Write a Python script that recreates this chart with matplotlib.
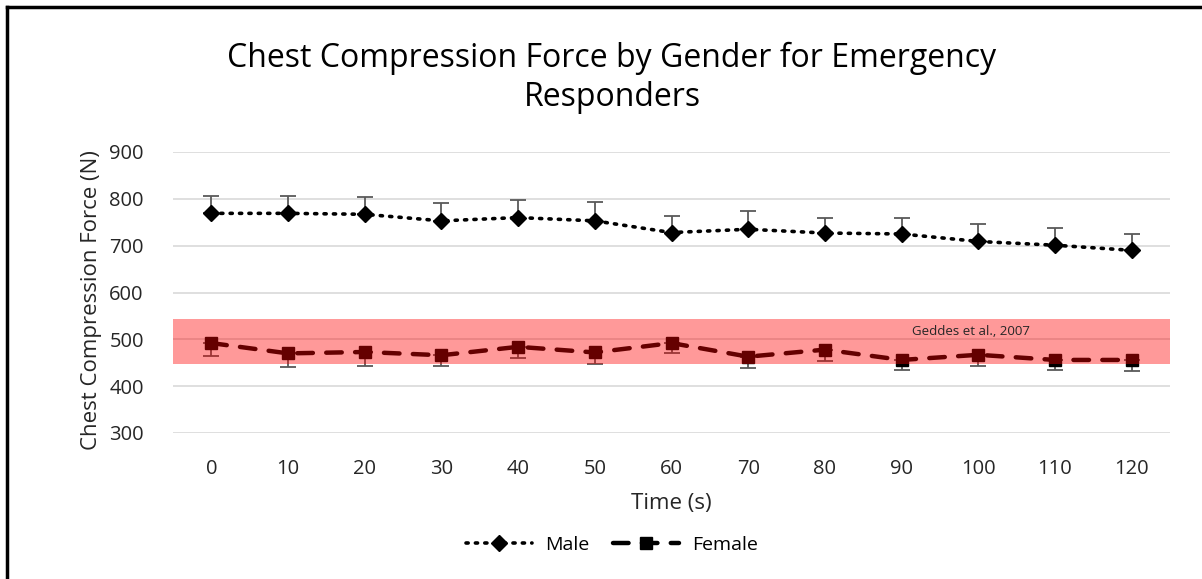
import matplotlib
matplotlib.use("Agg")
import matplotlib.pyplot as plt
from matplotlib.lines import Line2D
import numpy as np

plt.rcParams['font.family'] = ['Open Sans', 'DejaVu Sans']

time_labels = ["0", "10", "20", "30", "40", "50", "60", "70", "80", "90", "100", "110", "120"]
male = [769, 769, 767, 753, 760, 753, 728, 735, 727, 725, 709, 701, 690]
male_err = [36, 37, 36, 38, 37, 40, 35, 40, 33, 35, 37, 37, 35]
female = [492, 470, 473, 466, 484, 472, 492, 463, 478, 456, 467, 456, 456]
female_err = [27, 29, 30, 23, 24, 24, 22, 25, 25, 22, 23, 22, 23]
band_low, band_high = 448, 543
band_label = "Geddes et al., 2007"

fig = plt.figure(figsize=(12.02, 5.79), dpi=100)
ax = fig.add_axes([173/1202, 1-433/579, (1170-173)/1202, (433-152)/579])

x = np.arange(len(time_labels))

ax.errorbar(x, male, yerr=[np.zeros(len(male)), male_err], fmt='none',
            ecolor='#595959', elinewidth=1.3, capsize=6, capthick=1.3, zorder=2)
ax.errorbar(x, female, yerr=[female_err, np.zeros(len(female))], fmt='none',
            ecolor='#595959', elinewidth=1.3, capsize=6, capthick=1.3, zorder=2)

(male_line,) = ax.plot(x, male, color='black', linestyle=(0, (0.6, 2.0)), dash_capstyle='round',
                       linewidth=2.6, marker='D', markersize=8.5, label='Male', zorder=3)
(female_line,) = ax.plot(x, female, color='black', linestyle=(0, (3.5, 3.0)), dash_capstyle='round',
                         linewidth=3.2, marker='s', markersize=8, label='Female', zorder=3)

ax.axhspan(band_low, band_high, color='red', alpha=0.4, linewidth=0, zorder=4)
ax.text(9.9, 516, band_label, fontsize=9.5, color='#262626', ha='center', va='center', zorder=5)

ax.set_ylim(300, 900)
ax.set_xlim(-0.5, len(time_labels) - 0.5)
ax.set_yticks(np.arange(300, 901, 100))
ax.set_xticks(x)
ax.set_xticklabels(time_labels)
ax.grid(axis='y', color='#d9d9d9', linewidth=1.2, zorder=0)
ax.set_axisbelow(True)
for s in ax.spines.values():
    s.set_visible(False)
ax.tick_params(axis='both', length=0, labelsize=14.5, colors='#262626')
ax.tick_params(axis='y', pad=21)
ax.tick_params(axis='x', pad=19)

ax.set_xlabel("Time (s)", fontsize=16, color='#262626', labelpad=10)
fig.text(92/1202, 1-300/579, "Chest Compression Force (N)", rotation=90, fontsize=16,
         color='#262626', ha='center', va='center')

fig.text(612/1202, 1-78/579, "Chest Compression Force by Gender for Emergency\nResponders",
         fontsize=23, color='black', ha='center', va='center', linespacing=1.22)

leg = fig.legend(handles=[male_line, female_line], labels=['Male', 'Female'], loc='center',
                 bbox_to_anchor=(612/1202, 1-545/579), ncol=2, frameon=False, fontsize=14,
                 handlelength=3.4, columnspacing=1.2, handletextpad=0.7)

fig.add_artist(Line2D([6.5/1202, 6.5/1202], [0, 1-6.5/579], color='black', linewidth=2.5,
                      transform=fig.transFigure))
fig.add_artist(Line2D([6.5/1202, 1], [1-6.5/579, 1-6.5/579], color='black', linewidth=2.5,
                      transform=fig.transFigure))

fig.savefig("out.png", dpi=100, facecolor='white')
